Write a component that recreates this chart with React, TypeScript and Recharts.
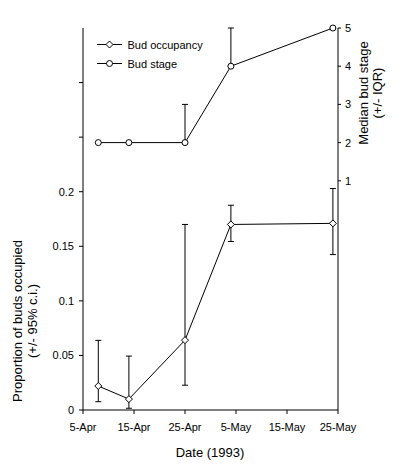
import React from 'react';
import { ComposedChart, Line, XAxis, YAxis, ErrorBar } from 'recharts';

const FONT = '"Liberation Sans", Arial, sans-serif';

// x axis: days after 5-Apr-1993
const dayTicks = [0, 10, 20, 30, 40, 50];
const dateLabels = ['5-Apr', '15-Apr', '25-Apr', '5-May', '15-May', '25-May'];
const sampleDays = [3, 9, 20, 29, 49];

// Bud occupancy (proportion, +/- 95% c.i.)
const occupancy = [0.022, 0.010, 0.064, 0.170, 0.171];
const occupancyLower = [0.0076, 0.0016, 0.0227, 0.1544, 0.1424];
const occupancyUpper = [0.0638, 0.0494, 0.170, 0.1876, 0.2029];

// Bud stage (median, + IQR)
const budStage = [2, 2, 2, 4, 5];
const budStageUpper = [2, 2, 3, 5, 5];

const leftTicks = [0, 0.05, 0.1, 0.15, 0.2, 0.25, 0.3];
const leftTickLabels = ['0', '0.05', '0.1', '0.15', '0.2', '', ''];
const rightTicks = [1, 2, 3, 4, 5];

const seriesNames = ['Bud occupancy', 'Bud stage'];

const data = sampleDays.map((d, i) => ({
  day: d,
  occ: occupancy[i],
  occErr: [occupancy[i] - occupancyLower[i], occupancyUpper[i] - occupancy[i]],
  stage: budStage[i],
  stageErr: [0, budStageUpper[i] - budStage[i]],
}));

const Diamond = (props: any) => {
  const { cx, cy, index } = props;
  if (cx == null || cy == null) return null;
  const s = 3.5;
  return (
    <polygon
      key={`d-${index}`}
      points={`${cx},${cy - s} ${cx + s},${cy} ${cx},${cy + s} ${cx - s},${cy}`}
      fill="#fff"
      stroke="#000"
      strokeWidth={1}
    />
  );
};

const tickStyle = { fontSize: 11, fontFamily: FONT, fill: '#000' };

const LeftTitle = () => (
  <g fontFamily={FONT} fontSize={13} fill="#000">
    <text x={22} y={321} textAnchor="middle" transform="rotate(-90 22 321)">Proportion of buds occupied</text>
    <text x={37} y={321} textAnchor="middle" transform="rotate(-90 37 321)">(+/- 95% c.i.)</text>
  </g>
);

const RightTitle = () => (
  <g fontFamily={FONT} fontSize={13} fill="#000">
    <text x={368} y={93} textAnchor="middle" transform="rotate(-90 368 93)">Median bud stage</text>
    <text x={382} y={93} textAnchor="middle" transform="rotate(-90 382 93)">(+/- IQR)</text>
  </g>
);

const BottomTitle = () => (
  <text x={210} y={457} textAnchor="middle" fontFamily={FONT} fontSize={13} fill="#000">Date (1993)</text>
);

const LegendOverlay = () => (
  <svg width={399} height={472} style={{ position: 'absolute', left: 0, top: 0, pointerEvents: 'none' }}>
    <g fontFamily={FONT} fontSize={11} fill="#000">
      <line x1={97} y1={44.5} x2={122} y2={44.5} stroke="#000" strokeWidth={1} />
      <polygon points="109.5,41 113,44.5 109.5,48 106,44.5" fill="#fff" stroke="#000" strokeWidth={1} />
      <text x={127.5} y={48.5}>{seriesNames[0]}</text>
      <line x1={97} y1={63.5} x2={122} y2={63.5} stroke="#000" strokeWidth={1} />
      <circle cx={109.5} cy={63.5} r={3} fill="#fff" stroke="#000" strokeWidth={1} />
      <text x={127.5} y={67.5}>{seriesNames[1]}</text>
    </g>
  </svg>
);

export default function App() {
  return (
    <div style={{ position: 'absolute', left: 0, top: 0, width: 399, height: 472, background: '#fff' }}>
      <ComposedChart
        width={399}
        height={472}
        data={data}
        margin={{ top: 28, right: 11, bottom: 12, left: 13 }}
      >
        <XAxis
          dataKey="day"
          type="number"
          domain={[0, 50]}
          ticks={dayTicks}
          interval={0}
          tickFormatter={(v: number) => dateLabels[dayTicks.indexOf(v)] ?? ''}
          height={50}
          tickSize={4}
          tickMargin={9}
          tick={tickStyle}
          axisLine={{ stroke: '#000', strokeWidth: 1 }}
          tickLine={{ stroke: '#000', strokeWidth: 1 }}
          label={<BottomTitle />}
        />
        <YAxis
          yAxisId="left"
          orientation="left"
          type="number"
          domain={[0, 0.35]}
          ticks={leftTicks}
          interval={0}
          tickFormatter={(v: number) => leftTickLabels[leftTicks.indexOf(v)] ?? ''}
          width={70}
          tickSize={4}
          tickMargin={5}
          tick={tickStyle}
          axisLine={{ stroke: '#000', strokeWidth: 1 }}
          tickLine={{ stroke: '#000', strokeWidth: 1 }}
          label={<LeftTitle />}
        />
        <YAxis
          yAxisId="right"
          orientation="right"
          type="number"
          domain={[-5, 5]}
          ticks={rightTicks}
          interval={0}
          width={50}
          tickSize={3}
          tickMargin={4}
          tick={tickStyle}
          axisLine={{ stroke: '#000', strokeWidth: 1 }}
          tickLine={{ stroke: '#000', strokeWidth: 1 }}
          label={<RightTitle />}
        />
        <Line
          yAxisId="left"
          type="linear"
          dataKey="occ"
          name={seriesNames[0]}
          stroke="#000"
          strokeWidth={1}
          dot={<Diamond />}
          activeDot={false}
          isAnimationActive={false}
        >
          <ErrorBar dataKey="occErr" width={3} stroke="#000" strokeWidth={1} direction="y" isAnimationActive={false} />
        </Line>
        <Line
          yAxisId="right"
          type="linear"
          dataKey="stage"
          name={seriesNames[1]}
          stroke="#000"
          strokeWidth={1}
          dot={{ r: 3, fill: '#fff', stroke: '#000', strokeWidth: 1 }}
          activeDot={false}
          isAnimationActive={false}
        >
          <ErrorBar dataKey="stageErr" width={3} stroke="#000" strokeWidth={1} direction="y" isAnimationActive={false} />
        </Line>
      </ComposedChart>
      <LegendOverlay />
    </div>
  );
}
